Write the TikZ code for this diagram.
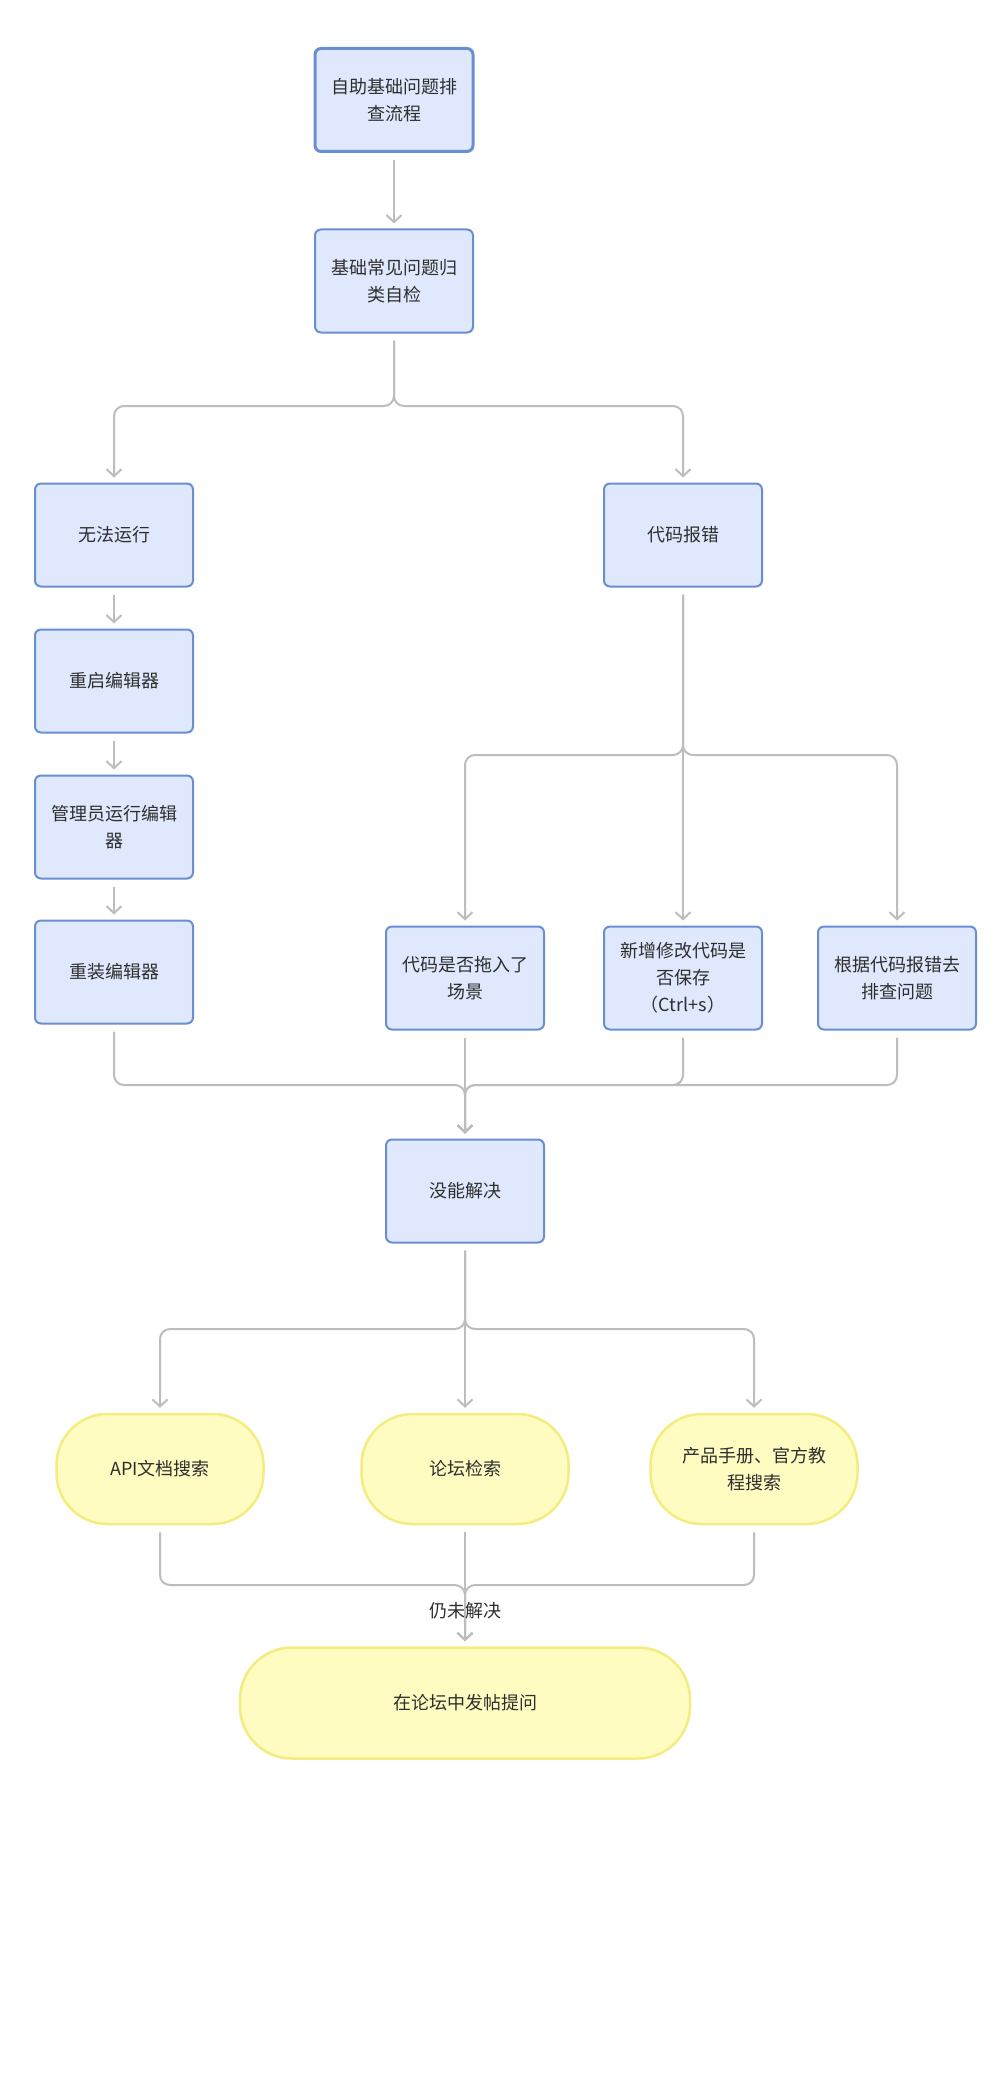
\documentclass[tikz,border=0pt]{standalone}
\usepackage{fontspec}
\newfontfamily\cjk{Noto Sans CJK SC}
\usetikzlibrary{arrows.meta}
\definecolor{bfill}{HTML}{DFE8FC}
\definecolor{bdraw}{HTML}{6A8ED2}
\definecolor{yfill}{HTML}{FFFCC2}
\definecolor{ydraw}{HTML}{F5EC80}
\definecolor{conncol}{HTML}{BDBDBD}
\definecolor{txt}{HTML}{2E2E2E}
\begin{document}
\begin{tikzpicture}[x=1pt,y=-1pt,
  every node/.style={font=\cjk\fontsize{18}{27}\selectfont, text=txt, align=center},
  bluebox/.style={draw=bdraw, fill=bfill, line width=2pt, rounded corners=6pt,
    minimum width=158pt, minimum height=103pt, inner sep=0pt},
  yellowbox/.style={draw=ydraw, fill=yfill, line width=2.5pt, rounded corners=51pt,
    minimum width=207pt, minimum height=110pt, inner sep=0pt},
  conn/.style={draw=conncol, line width=2pt, rounded corners=10pt,
    shorten <=7pt, shorten >=5pt, -{Straight Barb[length=7pt,width=15pt]}},
  lbl/.style={inner sep=0pt}]
\path[fill=white] (0,0) rectangle (1006,2076);
\useasboundingbox (0,0) rectangle (1006,2076);

\node[bluebox, line width=3pt] (b1) at (394,100) {自助基础问题排\\查流程};
\node[bluebox] (b2) at (394,281) {基础常见问题归\\类自检};

\node[bluebox] (n1) at (114,535) {无法运行};
\node[bluebox] (n2) at (114,681) {重启编辑器};
\node[bluebox] (n3) at (114,827) {管理员运行编辑\\器};
\node[bluebox] (n4) at (114,972) {重装编辑器};

\node[bluebox] (e0) at (683,535) {代码报错};
\node[bluebox] (e1) at (465,978) {代码是否拖入了\\场景};
\node[bluebox] (e2) at (683,978) {新增修改代码是\\否保存\\（Ctrl+s）};
\node[bluebox] (e3) at (897,978) {根据代码报错去\\排查问题};

\node[bluebox] (m) at (465,1191) {没能解决};

\node[yellowbox] (y1) at (160,1469) {API文档搜索};
\node[yellowbox] (y2) at (465,1469) {论坛检索};
\node[yellowbox] (y3) at (754,1469) {产品手册、官方教\\程搜索};

\node[yellowbox, minimum width=450pt, minimum height=111pt, rounded corners=52pt] (f) at (465,1703) {在论坛中发帖提问};

% connectors
\draw[conn] (b1.south) -- (b2.north);
\draw[conn] (b2.south) -- (394,406) -| (n1.north);
\draw[conn] (b2.south) -- (394,406) -| (e0.north);
\draw[conn] (n1.south) -- (n2.north);
\draw[conn] (n2.south) -- (n3.north);
\draw[conn] (n3.south) -- (n4.north);

\draw[conn] (e0.south) -- (683,755) -| (e1.north);
\draw[conn] (e0.south) -- (e2.north);
\draw[conn] (e0.south) -- (683,755) -| (e3.north);

\draw[conn] (n4.south) -- (114,1085) -| (m.north);
\draw[conn] (e1.south) -- (m.north);
\draw[conn] (e2.south) -- (683,1085) -| (m.north);
\draw[conn] (e3.south) -- (897,1085) -| (m.north);

\draw[conn] (m.south) -- (465,1329) -| (y1.north);
\draw[conn] (m.south) -- (y2.north);
\draw[conn] (m.south) -- (465,1329) -| (y3.north);

\draw[conn] (y1.south) -- (160,1585) -| (f.north);
\draw[conn] (y2.south) -- (f.north);
\draw[conn] (y3.south) -- (754,1585) -| (f.north);

\node[lbl] (lab) at (465,1611) {仍未解决};
\end{tikzpicture}
\end{document}
